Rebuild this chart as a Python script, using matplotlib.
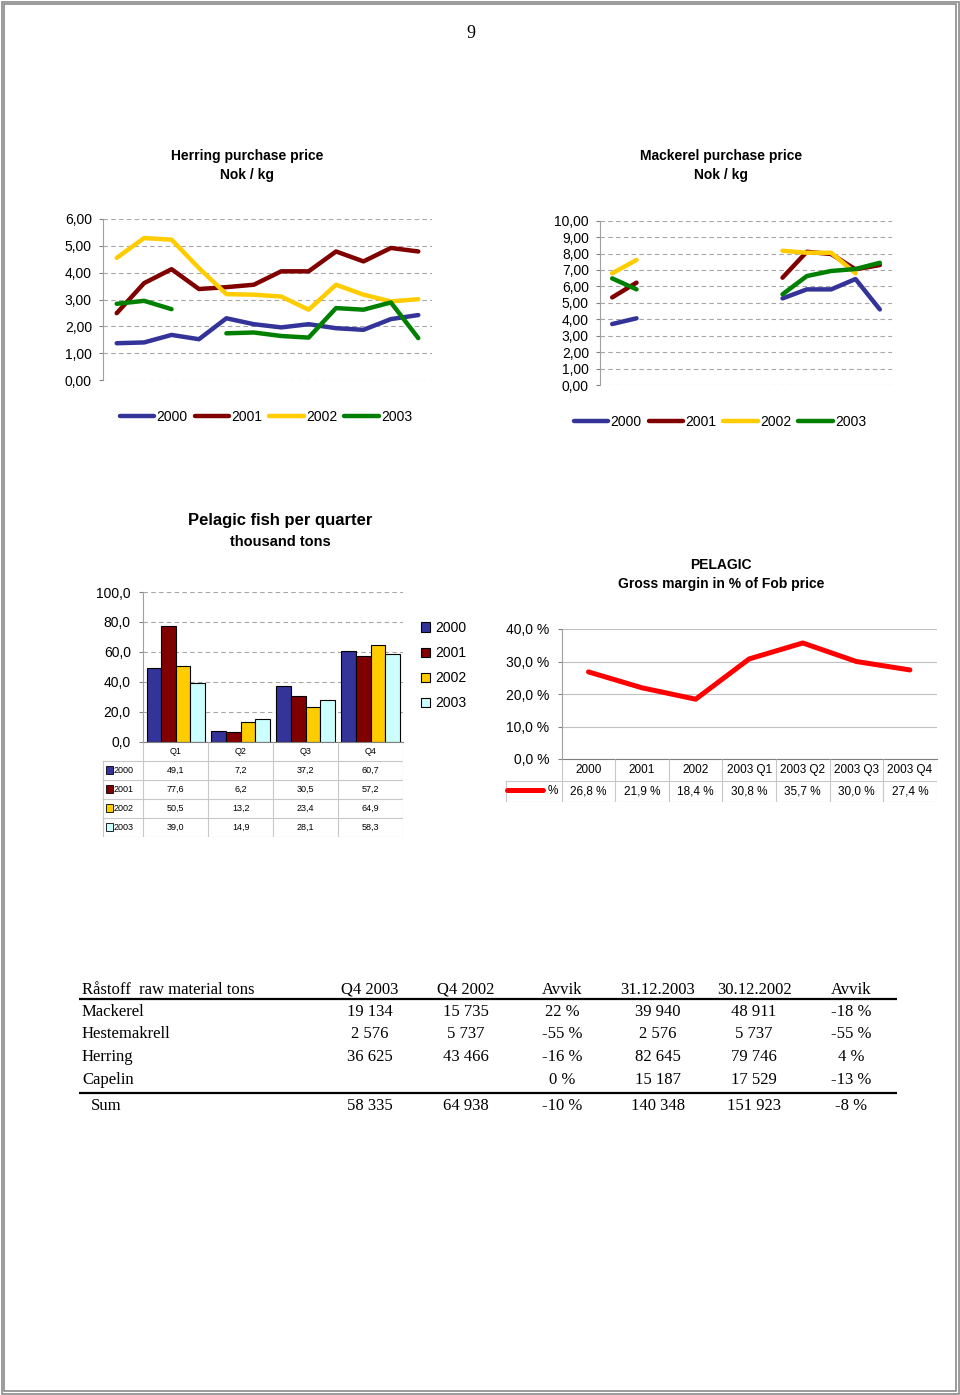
import numpy as np
import matplotlib
matplotlib.use('Agg')
import matplotlib.pyplot as plt
from matplotlib.patches import Rectangle
from matplotlib.lines import Line2D
from matplotlib.ticker import FuncFormatter, MultipleLocator

plt.rcParams['font.family'] = ['Liberation Sans', 'DejaVu Sans']
plt.rcParams['lines.solid_capstyle'] = 'round'

W, H = 960, 1395
nan = np.nan

# herring purchase price, Nok/kg (12 readings per year)
herring_2000 = [1.37, 1.40, 1.68, 1.52, 2.30, 2.08, 1.96, 2.08, 1.93, 1.87, 2.27, 2.42]
herring_2001 = [2.49, 3.61, 4.13, 3.39, 3.46, 3.55, 4.05, 4.05, 4.79, 4.42, 4.92, 4.79]
herring_2002 = [4.55, 5.29, 5.23, 4.17, 3.20, 3.18, 3.11, 2.62, 3.55, 3.18, 2.93, 3.01]
herring_2003 = [2.84, 2.95, 2.64, nan, 1.74, 1.77, 1.64, 1.58, 2.68, 2.62, 2.89, 1.56]

# mackerel purchase price, Nok/kg
mackerel_2000 = [3.71, 4.06, nan, nan, nan, nan, nan, 5.27, 5.82, 5.82, 6.45, 4.60]
mackerel_2001 = [5.33, 6.23, nan, nan, nan, nan, nan, 6.53, 8.11, 7.97, 7.04, 7.30]
mackerel_2002 = [6.80, 7.61, nan, nan, nan, nan, nan, 8.17, 8.05, 8.05, 6.80, nan]
mackerel_2003 = [6.49, 5.82, nan, nan, nan, nan, nan, 5.52, 6.63, 6.94, 7.06, 7.44]

years = ['2000', '2001', '2002', '2003']
line_colors = ['#333399', '#800000', '#ffcc00', '#008000']

# pelagic fish per quarter, thousand tons
quarters = ['Q1', 'Q2', 'Q3', 'Q4']
catch_2000 = [49.1, 7.2, 37.2, 60.7]
catch_2001 = [77.6, 6.2, 30.5, 57.2]
catch_2002 = [50.5, 13.2, 23.4, 64.9]
catch_2003 = [39.0, 14.9, 28.1, 58.3]
bar_colors = ['#333399', '#800000', '#ffcc00', '#ccffff']

# gross margin in % of Fob price
margin_periods = ['2000', '2001', '2002', '2003 Q1', '2003 Q2', '2003 Q3', '2003 Q4']
margin_pct = [26.8, 21.9, 18.4, 30.8, 35.7, 30.0, 27.4]

# raw material table
raw_header = ['Råstoff  raw material tons', 'Q4 2003', 'Q4 2002', 'Avvik',
              '31.12.2003', '30.12.2002', 'Avvik']
raw_species = ['Mackerel', 'Hestemakrell', 'Herring', 'Capelin', 'Sum']
q4_2003 = [19134, 2576, 36625, None, 58335]
q4_2002 = [15735, 5737, 43466, None, 64938]
q4_dev = [22, -55, -16, 0, -10]
ytd_2003 = [39940, 2576, 82645, 15187, 140348]
ytd_2002 = [48911, 5737, 79746, 17529, 151923]
ytd_dev = [-18, -55, 4, -13, -8]


def box(x0, y0, x1, y1):
    return [x0 / W, 1 - y1 / H, (x1 - x0) / W, (y1 - y0) / H]


def fx(x):
    return x / W


def fy(y):
    return 1 - y / H


def comma(fmt):
    return FuncFormatter(lambda v, p: format(v, fmt).replace('.', ','))


def thousands(v):
    return '' if v is None else f'{v:,}'.replace(',', ' ')


fig = plt.figure(figsize=(W / 100, H / 100), dpi=100)

# page frame
for inset in (1.5, 4.0):
    fig.add_artist(Rectangle((fx(inset), fy(H - inset)), (W - 2 * inset) / W, (H - 2 * inset) / H,
                             transform=fig.transFigure, fill=False, ec='#808080', lw=1.1))
fig.text(fx(471), fy(33), '9', ha='center', va='center', fontsize=13, family='Liberation Serif')


def price_chart(rect, series, ymax, title_x, legend_x, legend_y):
    ax = fig.add_axes(rect)
    x = np.arange(12)
    for vals, c, lab in zip(series, line_colors, years):
        ax.plot(x, vals, color=c, lw=3.2, label=lab)
    ax.set_xlim(-0.5, 11.5)
    ax.set_ylim(0, ymax)
    ax.yaxis.set_major_locator(MultipleLocator(1))
    ax.yaxis.set_major_formatter(comma('.2f'))
    ax.set_xticks([])
    ax.tick_params(axis='y', length=3, width=0.8, color='#808080', pad=5, labelsize=10)
    for s in ('top', 'right', 'bottom'):
        ax.spines[s].set_visible(False)
    ax.spines['left'].set_color('#a0a0a0')
    ax.yaxis.grid(True, linestyle=(0, (4, 3)), color='#a6a6a6', lw=0.8)
    ax.set_axisbelow(True)
    ax.legend(loc='center', bbox_to_anchor=(fx(legend_x), fy(legend_y)), bbox_transform=fig.transFigure,
              ncol=4, frameon=False, fontsize=10, handlelength=2.5, handletextpad=0.15,
              columnspacing=0.5, borderpad=0)
    return ax


price_chart(box(103, 219, 432, 380), [herring_2000, herring_2001, herring_2002, herring_2003],
            6, 247, 266, 417)
price_chart(box(600, 220.7, 892, 385), [mackerel_2000, mackerel_2001, mackerel_2002, mackerel_2003],
            10, 721, 720, 422)

fig.text(fx(247), fy(156), 'Herring purchase price', ha='center', va='center', fontsize=10, weight='bold')
fig.text(fx(247), fy(175), 'Nok / kg', ha='center', va='center', fontsize=10, weight='bold')
fig.text(fx(721), fy(156), 'Mackerel purchase price', ha='center', va='center', fontsize=10, weight='bold')
fig.text(fx(721), fy(175), 'Nok / kg', ha='center', va='center', fontsize=10, weight='bold')

# ---- bar chart: pelagic fish per quarter
bx0, bx1, by_top, by0 = 143.3, 403, 592, 741.7
bax = fig.add_axes(box(bx0, by_top, bx1, by0))
catches = [catch_2000, catch_2001, catch_2002, catch_2003]
xq = np.arange(4)
bw = 0.225
bars = []
for k, (vals, c) in enumerate(zip(catches, bar_colors)):
    bars.append(bax.bar(xq + (k - 1.5) * bw, vals, bw, color=c, edgecolor='black', lw=0.8))
bax.set_xlim(-0.5, 3.5)
bax.set_ylim(0, 100)
bax.yaxis.set_major_locator(MultipleLocator(20))
bax.yaxis.set_major_formatter(comma('.1f'))
bax.set_xticks([])
bax.tick_params(axis='y', length=3, width=0.8, color='#808080', pad=6, labelsize=10)
for s in ('top', 'right'):
    bax.spines[s].set_visible(False)
bax.spines['left'].set_color('#a0a0a0')
bax.spines['bottom'].set_color('#808080')
bax.yaxis.grid(True, linestyle=(0, (4, 3)), color='#a6a6a6', lw=0.8)
bax.set_axisbelow(True)
bax.legend(bars, years, loc='upper left', bbox_to_anchor=(fx(421), fy(621)), bbox_transform=fig.transFigure,
           frameon=False, fontsize=10, handlelength=0.65, handleheight=0.65, handletextpad=0.35,
           labelspacing=0.8, borderpad=0, borderaxespad=0)

fig.text(fx(280), fy(521), 'Pelagic fish per quarter', ha='center', va='center', fontsize=12, weight='bold')
fig.text(fx(280), fy(542), 'thousand tons', ha='center', va='center', fontsize=10.5, weight='bold')

# data table under the bars
cw = (bx1 - bx0) / 4
tl = -0.5 - (bx0 - 102) / cw
tax = fig.add_axes(box(102, by0, bx1, 837))
tax.set_xlim(tl, 3.5)
tax.set_ylim(5, 0)
tax.axis('off')
grid_c = '#c8c8c8'
tax.vlines(np.arange(5) - 0.5, 0, 5, color=grid_c, lw=0.8)
tax.vlines(tl + 0.01, 1, 5, color=grid_c, lw=0.8)
tax.hlines(np.arange(1, 6), tl, 3.5, color=grid_c, lw=0.8)
for i, q in enumerate(quarters):
    tax.text(i, 0.5, q, ha='center', va='center', fontsize=6.5)
for r, (vals, c, lab) in enumerate(zip(catches, bar_colors, years)):
    yc = r + 1.5
    tax.add_patch(Rectangle((tl + 3.7 / cw, yc - 0.21), 7.5 / cw, 0.42, fc=c, ec='black', lw=0.6))
    tax.text(tl + 12 / cw, yc, lab, ha='left', va='center', fontsize=6.5)
    for i, v in enumerate(vals):
        tax.text(i, yc, f'{v:.1f}'.replace('.', ','), ha='center', va='center', fontsize=6.5)

# ---- gross margin line chart
gx0, gx1, gy_top, gy0 = 561.7, 936.7, 629, 759
gax = fig.add_axes(box(gx0, gy_top, gx1, gy0))
xm = np.arange(len(margin_periods))
gax.plot(xm, margin_pct, color='#ff0000', lw=3.6)
gax.set_xlim(-0.5, 6.5)
gax.set_ylim(0, 40)
gax.yaxis.set_major_locator(MultipleLocator(10))
gax.yaxis.set_major_formatter(FuncFormatter(lambda v, p: f'{v:.1f} %'.replace('.', ',')))
gax.set_xticks([])
gax.tick_params(axis='y', length=3, width=0.8, color='#808080', pad=6, labelsize=10)
for s in ('top', 'right'):
    gax.spines[s].set_visible(False)
gax.spines['left'].set_color('#a0a0a0')
gax.spines['bottom'].set_color('#808080')
gax.yaxis.grid(True, color='#c0c0c0', lw=0.8)
gax.set_axisbelow(True)

fig.text(fx(721), fy(565), 'PELAGIC', ha='center', va='center', fontsize=10, weight='bold')
fig.text(fx(721), fy(584), 'Gross margin in % of Fob price', ha='center', va='center', fontsize=10, weight='bold')

gcw = (gx1 - gx0) / 7
gl = -0.5 - (gx0 - 505) / gcw
gtab = fig.add_axes(box(505, gy0, gx1, 802))
gtab.set_xlim(gl, 6.5)
gtab.set_ylim(2, 0)
gtab.axis('off')
gtab.vlines(np.arange(8) - 0.5, 0, 2, color=grid_c, lw=0.8)
gtab.vlines(gl + 0.01, 1, 2, color=grid_c, lw=0.8)
gtab.hlines([1, 2], gl, 6.5, color=grid_c, lw=0.8)
for i, (lab, v) in enumerate(zip(margin_periods, margin_pct)):
    gtab.text(i, 0.5, lab, ha='center', va='center', fontsize=8.5)
    gtab.text(i, 1.5, f'{v:.1f} %'.replace('.', ','), ha='center', va='center', fontsize=8.5)
gtab.legend([Line2D([], [], color='#ff0000', lw=3.6)], ['%'], loc='center left',
            bbox_to_anchor=(0.005, 0.25), frameon=False, fontsize=8.5, handlelength=3.0,
            handletextpad=0.4, borderpad=0, borderaxespad=0)

# ---- raw material table
col_x = [82, 370, 466, 562, 658, 754, 851]
row_y = [990, 1012, 1034.5, 1057, 1080, 1106]
serif = 'Liberation Serif'
for j, h in enumerate(raw_header):
    fig.text(fx(col_x[j]), fy(row_y[0]), h, ha='left' if j == 0 else 'center', va='center',
             fontsize=12, family=serif)
cells = list(zip(q4_2003, q4_2002, q4_dev, ytd_2003, ytd_2002, ytd_dev))
for r, (name, row) in enumerate(zip(raw_species, cells)):
    y = row_y[r + 1]
    fig.text(fx(91 if name == 'Sum' else 82), fy(y), name, ha='left', va='center', fontsize=12, family=serif)
    texts = [thousands(row[0]), thousands(row[1]), f'{row[2]} %',
             thousands(row[3]), thousands(row[4]), f'{row[5]} %']
    for j, t in enumerate(texts):
        fig.text(fx(col_x[j + 1]), fy(y), t, ha='center', va='center', fontsize=12, family=serif)
for yl in (998.5, 1093):
    fig.add_artist(Line2D([fx(79), fx(897)], [fy(yl), fy(yl)], transform=fig.transFigure,
                          color='black', lw=1.6, solid_capstyle='butt'))

fig.savefig('out.png', dpi=100)
